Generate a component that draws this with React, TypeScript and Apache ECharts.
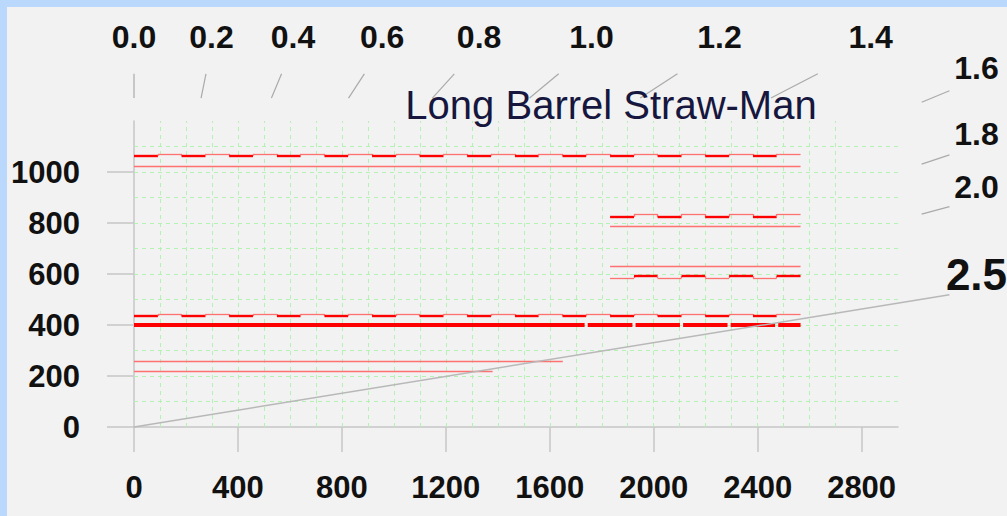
import React, { useEffect, useRef } from "react";
import * as echarts from "echarts";

// ---------- data ----------
const xTicks = [0, 400, 800, 1200, 1600, 2000, 2400, 2800];
const yTicks = [0, 200, 400, 600, 800, 1000];

const topRayLabels = ["0.0", "0.2", "0.4", "0.6", "0.8", "1.0", "1.2", "1.4"];
const topRaySlopes = [0, 0.2, 0.41, 0.64, 0.89, 1.18, 1.51, 1.9];
const sideRayLabels = ["1.6", "1.8", "2.0"];
const sideRaySlopes = [2.38, 2.94, 3.63];
const mainRayLabel = "2.5";
const mainRaySlope = 6.05;

const steps = [
  0, 92, 183, 275, 366, 458, 550, 641, 733, 824, 916, 1008, 1099, 1191, 1282,
  1374, 1466, 1557, 1649, 1740, 1832, 1924, 2015, 2107, 2198, 2290, 2382, 2473, 2565,
];
const topUpper = [
  1064, 1071, 1064, 1071, 1064, 1071, 1064, 1071, 1064, 1071, 1064, 1071, 1064, 1071,
  1064, 1071, 1064, 1071, 1064, 1071, 1064, 1071, 1064, 1071, 1064, 1071, 1064, 1071,
];
const topLower = 1024;
const shortStart = 20; // index into steps where the short barrels start
const upper800 = [824, 835, 824, 835, 824, 835, 824, 835];
const lower800 = 788;
const upper600 = 631;
const lower600 = [584, 592, 584, 592, 584, 592, 584, 592];
const upper400 = [
  435, 443, 435, 443, 435, 443, 435, 443, 435, 443, 435, 443, 435, 443,
  435, 443, 435, 443, 435, 443, 435, 443, 435, 443, 435, 443, 435, 443,
];
const base400 = 400;
const base400Gaps = [1740, 1924, 2107, 2290, 2473];
const upper200 = 259;
const upper200End = 1650;
const lower200 = 220;
const lower200End = 1380;

// ---------- helpers ----------
const DARK = { color: "#ff0000", width: 2.4, opacity: 1 };
const LIGHT = { color: "#ff7070", width: 1.3, opacity: 1 };
const THICK = { color: "#ff0000", width: 4, opacity: 1 };

function stepped(xs: number[], levels: number[], darkLevel: number) {
  const out: any[] = [];
  for (let i = 0; i < levels.length; i++) {
    out.push({
      coords: [[xs[i], levels[i]], [xs[i + 1], levels[i]]],
      lineStyle: levels[i] === darkLevel ? DARK : LIGHT,
    });
    if (i + 1 < levels.length && levels[i + 1] !== levels[i]) {
      out.push({
        coords: [[xs[i + 1], levels[i]], [xs[i + 1], levels[i + 1]]],
        lineStyle: LIGHT,
      });
    }
  }
  return out;
}
function flat(x0: number, x1: number, y: number, style: any) {
  return { coords: [[x0, y], [x1, y]], lineStyle: style };
}

export default function App() {
  const ref = useRef<HTMLDivElement>(null);
  useEffect(() => {
    if (!ref.current) return;
    const chart = echarts.init(ref.current, undefined, { renderer: "svg" });
    const xEnd = steps[steps.length - 1];
    const shortXs = steps.slice(shortStart);

    const redPieces: any[] = [];
    redPieces.push(...stepped(steps, topUpper, 1064));
    redPieces.push(flat(0, xEnd, topLower, LIGHT));
    redPieces.push(...stepped(shortXs, upper800, 824));
    redPieces.push(flat(shortXs[0], xEnd, lower800, LIGHT));
    redPieces.push(flat(shortXs[0], xEnd, upper600, LIGHT));
    redPieces.push(...stepped(shortXs, lower600, 592));
    redPieces.push(...stepped(steps, upper400, 435));
    {
      let start = 0;
      for (const g of base400Gaps) {
        redPieces.push(flat(start, g - 6, base400, THICK));
        start = g + 6;
      }
      redPieces.push(flat(start, xEnd, base400, THICK));
    }
    redPieces.push(flat(0, upper200End, upper200, LIGHT));
    redPieces.push(flat(0, lower200End, lower200, LIGHT));

    // minor grid (every 100 units)
    const gridPieces: any[] = [];
    for (let x = 100; x <= 2700; x += 100) gridPieces.push({ coords: [[x, 0], [x, 1200]] });
    for (let y = 100; y <= 1100; y += 100) gridPieces.push({ coords: [[0, y], [2940, y]] });

    type Ray = { label: string; slope: number; kind: string };
    const rays: Ray[] = [
      ...topRayLabels.map((l, i) => ({ label: l, slope: topRaySlopes[i], kind: "top" })),
      ...sideRayLabels.map((l, i) => ({ label: l, slope: sideRaySlopes[i], kind: "side" })),
      { label: mainRayLabel, slope: mainRaySlope, kind: "main" },
    ];

    const font = '"Liberation Sans", Arial, sans-serif';

    chart.setOption({
      animation: false,
      backgroundColor: "#f2f2f2",
      grid: { left: 134, top: 121, width: 764, height: 306, containLabel: false },
      xAxis: {
        type: "value",
        min: 0,
        max: 2940,
        interval: 400,
        axisLine: { show: true, lineStyle: { color: "#c6c6c6", width: 1.5 } },
        axisTick: { show: true, length: 25, customValues: xTicks, lineStyle: { color: "#c6c6c6", width: 1.5 } },
        axisLabel: {
          customValues: xTicks,
          margin: 60,
          verticalAlign: "middle",
          color: "#111",
          fontSize: 31,
          fontWeight: "bold",
          fontFamily: font,
          formatter: (v: number) => String(v),
        },
        splitLine: { show: false },
      },
      yAxis: {
        type: "value",
        min: 0,
        max: 1200,
        interval: 200,
        axisLine: { show: true, lineStyle: { color: "#c6c6c6", width: 1.5 } },
        axisTick: { show: true, length: 27, customValues: yTicks, lineStyle: { color: "#c6c6c6", width: 1.5 } },
        axisLabel: {
          customValues: yTicks,
          margin: 54,
          color: "#111",
          fontSize: 31,
          fontWeight: "bold",
          fontFamily: font,
          formatter: (v: number) => String(v),
        },
        splitLine: { show: false },
      },
      graphic: [
        { type: "rect", z: 100, shape: { x: 0, y: 0, width: 1007, height: 7 }, style: { fill: "#b9d8fc" } },
        { type: "rect", z: 100, shape: { x: 0, y: 0, width: 7, height: 516 }, style: { fill: "#b9d8fc" } },
        {
          type: "text",
          x: 611,
          y: 105,
          z: 100,
          style: {
            text: "Long Barrel Straw-Man",
            fill: "#16163e",
            font: `40px ${font}`,
            align: "center",
            verticalAlign: "middle",
          },
        },
      ],
      series: [
        {
          name: "grid",
          type: "lines",
          coordinateSystem: "cartesian2d",
          z: 1,
          silent: true,
          clip: false,
          lineStyle: { color: "#b2f2b2", width: 1, type: [4, 4], opacity: 1 },
          data: gridPieces,
        },
        {
          name: "barrels",
          type: "lines",
          coordinateSystem: "cartesian2d",
          z: 2,
          silent: true,
          clip: false,
          data: redPieces,
        },
        {
          name: "rays",
          type: "custom",
          coordinateSystem: "cartesian2d",
          z: 3,
          clip: false,
          silent: true,
          data: rays.map(() => [0, 0]),
          renderItem: (params: any, api: any) => {
            const r = rays[params.dataIndex];
            let a: number[], b: number[], lab: number[];
            let size = 32;
            let dy = -10;
            let stroke = "#aaaaaa";
            let lw = 1.2;
            if (r.kind === "top") {
              a = api.coord([r.slope * 1290, 1290]);
              b = api.coord([r.slope * 1385, 1385]);
              lab = api.coord([r.slope * 1492, 1492]);
            } else if (r.kind === "side") {
              a = api.coord([3031, 3031 / r.slope]);
              b = api.coord([3138, 3138 / r.slope]);
              lab = api.coord([3242, 3242 / r.slope]);
              dy = -12;
            } else {
              a = api.coord([0, 0]);
              b = api.coord([3138, 3138 / r.slope]);
              lab = api.coord([3242, 3242 / r.slope]);
              dy = -16;
              size = 44;
              stroke = "#b8b8b8";
              lw = 1.5;
            }
            return {
              type: "group",
              children: [
                {
                  type: "line",
                  shape: { x1: a[0], y1: a[1], x2: b[0], y2: b[1] },
                  style: { stroke, lineWidth: lw },
                },
                {
                  type: "text",
                  x: lab[0],
                  y: lab[1] + dy,
                  style: {
                    text: r.label,
                    fill: "#111",
                    font: `bold ${size}px ${font}`,
                    align: "center",
                    verticalAlign: "middle",
                  },
                },
              ],
            };
          },
        },
      ],
    });
    return () => chart.dispose();
  }, []);
  return (
    <div
      ref={ref}
      style={{ position: "fixed", left: 0, top: 0, width: 1007, height: 516 }}
    />
  );
}
